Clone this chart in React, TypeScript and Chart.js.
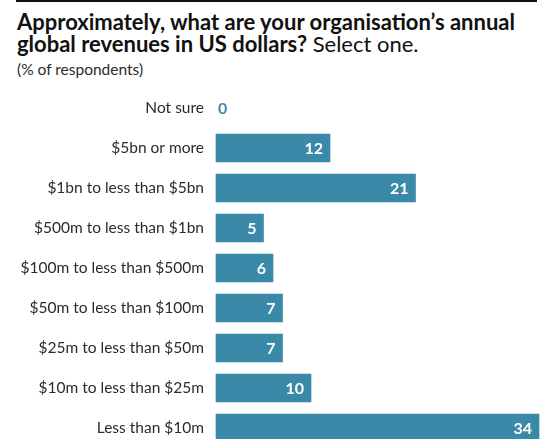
import React, { useEffect, useRef } from "react";
import { Chart, registerables } from "chart.js";

Chart.register(...registerables);

const categories: string[] = [
  "Not sure",
  "$5bn or more",
  "$1bn to less than $5bn",
  "$500m to less than $1bn",
  "$100m to less than $500m",
  "$50m to less than $100m",
  "$25m to less than $50m",
  "$10m to less than $25m",
  "Less than $10m",
];
const values: number[] = [0, 12, 21, 5, 6, 7, 7, 10, 34];

const BAR_COLOR = "#3b89a8";
const FONT = "Lato, 'Open Sans', sans-serif";

const valueLabels = {
  id: "valueLabels",
  afterDatasetsDraw(chart: any) {
    const ctx = chart.ctx;
    const meta = chart.getDatasetMeta(0);
    ctx.save();
    ctx.font = `bold 16px ${FONT}`;
    ctx.textBaseline = "middle";
    meta.data.forEach((bar: any, i: number) => {
      const v = values[i];
      if (v > 0) {
        ctx.fillStyle = "#ffffff";
        ctx.textAlign = "right";
        ctx.fillText(String(v), bar.x - 7, bar.y + 1);
      } else {
        ctx.fillStyle = BAR_COLOR;
        ctx.textAlign = "left";
        ctx.fillText(String(v), bar.base + 2, bar.y + 1);
      }
    });
    ctx.restore();
  },
};

export default function App() {
  const ref = useRef<HTMLCanvasElement | null>(null);
  useEffect(() => {
    if (!ref.current) return;
    const chart = new Chart(ref.current, {
      type: "bar",
      data: {
        labels: categories,
        datasets: [
          {
            data: values,
            backgroundColor: (c: any) => (c.raw === 0 ? "rgba(0,0,0,0)" : BAR_COLOR),
            barThickness: 28,
            clip: false as any,
          },
        ],
      },
      options: {
        indexAxis: "y",
        animation: false,
        responsive: false,
        maintainAspectRatio: false,
        layout: { padding: { top: 108, bottom: 11, left: 0, right: 10 } },
        plugins: {
          legend: { display: false },
          tooltip: { enabled: false },
          title: { display: false },
        },
        scales: {
          x: {
            min: 0,
            max: 34,
            display: false,
          },
          y: {
            offset: false,
            grid: { display: false, drawTicks: false },
            border: { display: false },
            ticks: {
              color: "#2b2b2b",
              padding: 12,
              font: { family: FONT, size: 15.5 },
            },
            afterFit: (scale: any) => {
              scale.width = 216;
              scale.paddingTop = 0;
              scale.paddingBottom = 0;
            },
          },
        },
      },
      plugins: [valueLabels],
    });
    return () => chart.destroy();
  }, []);

  return (
    <div
      style={{
        position: "fixed",
        left: 0,
        top: 0,
        width: 549,
        height: 439,
        background: "#fff",
        overflow: "hidden",
        fontFamily: FONT,
      }}
    >
      <div
        style={{
          position: "absolute",
          left: 16,
          top: 0,
          width: 521,
          height: 2,
          background: "#111",
        }}
      />
      <div
        style={{
          position: "absolute",
          left: 17,
          top: 10.5,
          width: 532,
          fontSize: 22,
          lineHeight: "22px",
          color: "#111",
          whiteSpace: "nowrap",
        }}
      >
        <span style={{ fontWeight: 700 }}>
          Approximately, what are your organisation’s annual
          <br />
          global revenues in US dollars?
        </span>{" "}
        <span style={{ fontWeight: 400 }}>Select one.</span>
      </div>
      <div
        style={{
          position: "absolute",
          left: 17,
          top: 61,
          fontSize: 15.5,
          lineHeight: "16px",
          color: "#2b2b2b",
        }}
      >
        (% of respondents)
      </div>
      <canvas
        ref={ref}
        width={549}
        height={439}
        style={{ position: "absolute", left: 0, top: 0, width: 549, height: 439 }}
      />
    </div>
  );
}
